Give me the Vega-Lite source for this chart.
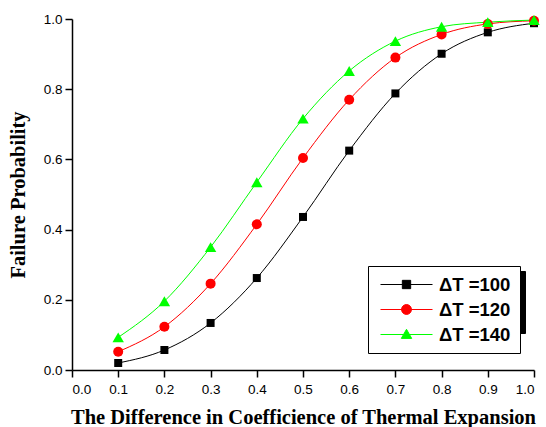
{
  "$schema": "https://vega.github.io/schema/vega-lite/v6.json",
  "width": 462,
  "height": 351,
  "autosize": "none",
  "padding": {"left": 72, "top": 19, "right": 12, "bottom": 57},
  "background": "white",
  "config": {
    "view": {"stroke": null},
    "axis": {
      "domainColor": "black",
      "domainWidth": 1.5,
      "tickColor": "black",
      "tickWidth": 1.5,
      "tickSize": 7,
      "labelFont": "Liberation Sans",
      "labelFontSize": 13.5,
      "labelColor": "black",
      "labelPadding": 3,
      "labelOverlap": false,
      "grid": false,
      "titleFont": "Liberation Serif",
      "titleFontWeight": "bold",
      "titleFontSize": 20.5,
      "titleColor": "black"
    }
  },
  "datasets": {
    "curves": [
      {"x": 0.1, "p": 0.020, "series": "ΔT =100"},
      {"x": 0.2, "p": 0.057, "series": "ΔT =100"},
      {"x": 0.3, "p": 0.134, "series": "ΔT =100"},
      {"x": 0.4, "p": 0.262, "series": "ΔT =100"},
      {"x": 0.5, "p": 0.436, "series": "ΔT =100"},
      {"x": 0.6, "p": 0.625, "series": "ΔT =100"},
      {"x": 0.7, "p": 0.788, "series": "ΔT =100"},
      {"x": 0.8, "p": 0.901, "series": "ΔT =100"},
      {"x": 0.9, "p": 0.962, "series": "ΔT =100"},
      {"x": 1.0, "p": 0.988, "series": "ΔT =100"},
      {"x": 0.1, "p": 0.052, "series": "ΔT =120"},
      {"x": 0.2, "p": 0.123, "series": "ΔT =120"},
      {"x": 0.3, "p": 0.246, "series": "ΔT =120"},
      {"x": 0.4, "p": 0.415, "series": "ΔT =120"},
      {"x": 0.5, "p": 0.604, "series": "ΔT =120"},
      {"x": 0.6, "p": 0.770, "series": "ΔT =120"},
      {"x": 0.7, "p": 0.890, "series": "ΔT =120"},
      {"x": 0.8, "p": 0.956, "series": "ΔT =120"},
      {"x": 0.9, "p": 0.986, "series": "ΔT =120"},
      {"x": 1.0, "p": 0.995, "series": "ΔT =120"},
      {"x": 0.1, "p": 0.093, "series": "ΔT =140"},
      {"x": 0.2, "p": 0.196, "series": "ΔT =140"},
      {"x": 0.3, "p": 0.350, "series": "ΔT =140"},
      {"x": 0.4, "p": 0.535, "series": "ΔT =140"},
      {"x": 0.5, "p": 0.716, "series": "ΔT =140"},
      {"x": 0.6, "p": 0.852, "series": "ΔT =140"},
      {"x": 0.7, "p": 0.937, "series": "ΔT =140"},
      {"x": 0.8, "p": 0.978, "series": "ΔT =140"},
      {"x": 0.9, "p": 0.991, "series": "ΔT =140"},
      {"x": 1.0, "p": 0.997, "series": "ΔT =140"}
    ],
    "legendShadow": [
      {"s": "ΔT =100"},
      {"s": "ΔT =120"},
      {"s": "ΔT =140"}
    ]
  },
  "layer": [
    {
      "data": {"name": "legendShadow"},
      "mark": {"type": "point", "opacity": 0},
      "encoding": {
        "opacity": {
          "field": "s",
          "type": "ordinal",
          "scale": {"range": [0, 0, 0]},
          "legend": {
            "title": null,
            "orient": "none",
            "legendX": 301,
            "legendY": 252,
            "zindex": 0,
            "fillColor": "black",
            "strokeColor": "black",
            "padding": 9,
            "clipHeight": 19,
            "rowPadding": 6,
            "labelFont": "Liberation Sans",
            "labelFontWeight": "bold",
            "labelFontSize": 18.5,
            "labelColor": "black",
            "labelOffset": 6,
            "symbolOffset": 3,
            "symbolSize": 2704,
            "symbolType": "M-1,0H1",
            "symbolOpacity": 0,
            "symbolStrokeWidth": 1,
            "encode": {"symbols": {"update": {"opacity": {"value": 0}, "size": {"value": 2704}, "strokeWidth": {"value": 1}}}}
          }
        }
      }
    },
    {
      "data": {"name": "curves"},
      "mark": {"type": "line", "interpolate": "monotone", "strokeWidth": 1},
      "encoding": {
        "x": {
          "field": "x",
          "type": "quantitative",
          "scale": {"domain": [0, 1], "nice": false},
          "axis": {
            "values": [0, 0.05, 0.1, 0.15, 0.2, 0.25, 0.3, 0.35, 0.4, 0.45, 0.5, 0.55, 0.6, 0.65, 0.7, 0.75, 0.8, 0.85, 0.9, 0.95, 1.0],
            "labelExpr": "round(datum.value*20)%2 ? '' : format(datum.value, '.1f')",
            "labelOverlap": false,
            "labelPadding": 5,
            "title": "The Difference in Coefficience of Thermal Expansion",
            "titlePadding": 12,
            "encode": {"ticks": {"update": {"y2": {"signal": "round(datum.value*20)%2 ? 4 : 7"}}}}
          }
        },
        "y": {
          "field": "p",
          "type": "quantitative",
          "scale": {"domain": [0, 1], "nice": false},
          "axis": {
            "values": [0, 0.05, 0.1, 0.15, 0.2, 0.25, 0.3, 0.35, 0.4, 0.45, 0.5, 0.55, 0.6, 0.65, 0.7, 0.75, 0.8, 0.85, 0.9, 0.95, 1.0],
            "labelExpr": "round(datum.value*20)%2 ? '' : format(datum.value, '.1f')",
            "labelOverlap": false,
            "title": "Failure Probability",
            "titlePadding": 15,
            "encode": {"ticks": {"update": {"x2": {"signal": "round(datum.value*20)%2 ? -4 : -7"}}}}
          }
        },
        "color": {
          "field": "series",
          "type": "nominal",
          "scale": {"domain": ["ΔT =100", "ΔT =120", "ΔT =140"], "range": ["#000000", "#ff0000", "#00ff00"]},
          "legend": {
            "title": null,
            "orient": "none",
            "legendX": 296,
            "legendY": 247,
            "zindex": 1,
            "fillColor": "white",
            "strokeColor": "black",
            "padding": 9,
            "clipHeight": 19,
            "rowPadding": 6,
            "labelFont": "Liberation Sans",
            "labelFontWeight": "bold",
            "labelFontSize": 18.5,
            "labelColor": "black",
            "labelOffset": 6,
            "symbolOffset": 3,
            "symbolSize": 2704,
            "symbolStrokeWidth": 1,
            "encode": {
              "symbols": {
                "update": {
                  "shape": {"signal": "datum.value === 'ΔT =100' ? 'M-1,0H1M-0.16,-0.16H0.16V0.16H-0.16Z' : datum.value === 'ΔT =120' ? 'M-1,0H1M0.19,0C0.19,0.105 0.105,0.19 0,0.19C-0.105,0.19 -0.19,0.105 -0.19,0C-0.19,-0.105 -0.105,-0.19 0,-0.19C0.105,-0.19 0.19,-0.105 0.19,0Z' : 'M-1,0H1M-0.2,0.15L0.2,0.15L0,-0.2Z'"},
                  "size": {"value": 2704},
                  "fill": {"scale": "color", "field": "value"},
                  "stroke": {"scale": "color", "field": "value"},
                  "strokeWidth": {"value": 1},
                  "opacity": {"value": 1},
                  "fillOpacity": {"value": 1},
                  "strokeOpacity": {"value": 1}
                }
              }
            }
          }
        }
      }
    },
    {
      "data": {"name": "curves"},
      "transform": [{"filter": "datum.series === 'ΔT =100'"}],
      "mark": {"type": "point", "filled": true, "opacity": 1, "shape": "square", "size": 64},
      "encoding": {
        "x": {"field": "x", "type": "quantitative"},
        "y": {"field": "p", "type": "quantitative"},
        "color": {"field": "series", "type": "nominal"}
      }
    },
    {
      "data": {"name": "curves"},
      "transform": [{"filter": "datum.series === 'ΔT =120'"}],
      "mark": {"type": "point", "filled": true, "opacity": 1, "shape": "circle", "size": 100},
      "encoding": {
        "x": {"field": "x", "type": "quantitative"},
        "y": {"field": "p", "type": "quantitative"},
        "color": {"field": "series", "type": "nominal"}
      }
    },
    {
      "data": {"name": "curves"},
      "transform": [{"filter": "datum.series === 'ΔT =140'"}],
      "mark": {"type": "point", "filled": true, "opacity": 1, "shape": "triangle-up", "size": 130},
      "encoding": {
        "x": {"field": "x", "type": "quantitative"},
        "y": {"field": "p", "type": "quantitative"},
        "color": {"field": "series", "type": "nominal"}
      }
    }
  ]
}
